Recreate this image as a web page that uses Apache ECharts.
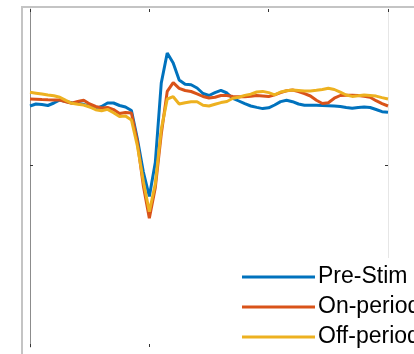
<!DOCTYPE html>
<html>
<head>
<meta charset="utf-8">
<script src="https://cdn.jsdelivr.net/npm/echarts@6/dist/echarts.min.js"></script>
<style>
  html, body { margin: 0; padding: 0; background: #fff; }
  #chart { width: 414px; height: 354px; }
</style>
</head>
<body>
<div id="chart"></div>
<script>
  // spike waveform, sampled every 0.05 ms from -1 ms to 2 ms
  var preStim = [59, 61, 60.5, 59.5, 62, 65, 63.5, 62.3, 61.5, 60.7, 58.5, 56.5, 58.5, 62, 62, 59.5, 58, 54.5, 26, -7,
    -31.5, 2.5, 82, 112, 102, 85, 80.7, 80.3, 77, 71.5, 69.5, 72.3, 74.6, 72, 66.7, 64, 61.3, 59, 57.6, 56.4,
    57.2, 60, 63.4, 64.7, 63.3, 61, 59.7, 59.7, 59.7, 59.6, 59.3, 59, 58.5, 57.5, 56.7, 57.5, 58, 57.5, 55.5, 53.3, 52.7]
  var onPeriod = [66, 65.7, 65.4, 65.2, 65.1, 65, 63.3, 61.7, 63.5, 64.8, 61, 58.5, 57, 57.6, 55.4, 51.5, 52.5, 52, 23, -21,
    -53.3, -22.7, 31, 73.6, 82.3, 76.7, 74.5, 73.5, 71.2, 68.5, 67, 67.7, 69.5, 69.6, 68.6, 68.3, 68.3, 68.8, 69.6, 69.1,
    68.4, 70.2, 72.4, 74.3, 75, 73.5, 71.4, 69, 64.7, 61.5, 62.3, 66.8, 69.5, 69.8, 69.7, 69.4, 68.7, 67.7, 64.3, 61.4, 59]
  var offPeriod = [72.7, 71.8, 70.9, 70, 69.2, 67.8, 64.6, 61.7, 60.8, 60, 58, 55.3, 54.3, 55.6, 52.2, 48.5, 49, 45, 19, -16.5,
    -46.7, -18.8, 35.7, 66, 68.3, 61, 62.3, 63.2, 63.2, 59.8, 59, 60.7, 62.4, 63.5, 66.7, 67.7, 69.6, 70.8, 73, 73.6,
    72.4, 70.2, 73, 74.2, 75, 74.5, 74, 74.1, 74.7, 75.5, 76.7, 75.5, 72.8, 70, 68.6, 69.2, 70, 69.6, 68.9, 67.4, 66]
  var seriesNames = ['Pre-Stim', 'On-period', 'Off-period']
  var seriesColors = ['#0072BD', '#D95319', '#EDB120']
  var tStart = -1, tStep = 0.05

  function pairs(arr) {
    return arr.map(function (v, i) { return [tStart + i * tStep, v] })
  }

  var myChart = echarts.init(document.getElementById('chart'))

  var tick = { show: true, inside: true, length: 3, lineStyle: { color: '#333', width: 1 } }

  var option = {
    animation: false,
    graphic: [{
      type: 'rect',
      shape: { x: 22, y: 7, width: 600, height: 600 },
      style: { fill: 'none', stroke: '#c4c4c4', lineWidth: 2 },
      z: -1
    }],
    grid: { left: 30, right: 26, top: 9, bottom: 7 },
    legend: {
      orient: 'vertical',
      left: 232,
      top: 258,
      height: 200,
      padding: [7, 20, 0, 10],
      backgroundColor: '#fff',
      itemWidth: 73,
      itemHeight: 3,
      itemGap: 6,
      icon: 'rect',
      textStyle: { fontFamily: 'Liberation Sans', fontSize: 23, lineHeight: 24, color: '#000', padding: [0, 0, 0, -2] },
      data: seriesNames
    },
    xAxis: [
      {
        type: 'value', position: 'bottom', min: -1, max: 2, interval: 1,
        axisLine: { show: false, onZero: false }, axisTick: tick, axisLabel: { show: false }, splitLine: { show: false }
      },
      {
        type: 'value', position: 'top', min: -1, max: 2, interval: 1,
        axisLine: { show: false, onZero: false }, axisTick: tick, axisLabel: { show: false }, splitLine: { show: false }
      }
    ],
    yAxis: [
      {
        type: 'value', position: 'left', min: -182, max: 156,
        axisLine: { show: true, onZero: false, lineStyle: { color: '#8c8c8c', width: 1 } },
        axisTick: { show: true, inside: true, length: 3, customValues: [0], lineStyle: { color: '#333' } },
        axisLabel: { show: false }, splitLine: { show: false }
      },
      {
        type: 'value', position: 'right', min: -182, max: 156,
        axisLine: { show: true, onZero: false, lineStyle: { color: '#e6e6e6', width: 1 } },
        axisTick: { show: true, inside: true, length: 3, customValues: [0], lineStyle: { color: '#333' } },
        axisLabel: { show: false }, splitLine: { show: false }
      }
    ],
    series: [preStim, onPeriod, offPeriod].map(function (arr, k) {
      return {
        name: seriesNames[k],
        type: 'line',
        showSymbol: false,
        data: pairs(arr),
        color: seriesColors[k],
        lineStyle: { width: 3, color: seriesColors[k] }
      }
    })
  }

  myChart.setOption(option)
</script>
</body>
</html>
